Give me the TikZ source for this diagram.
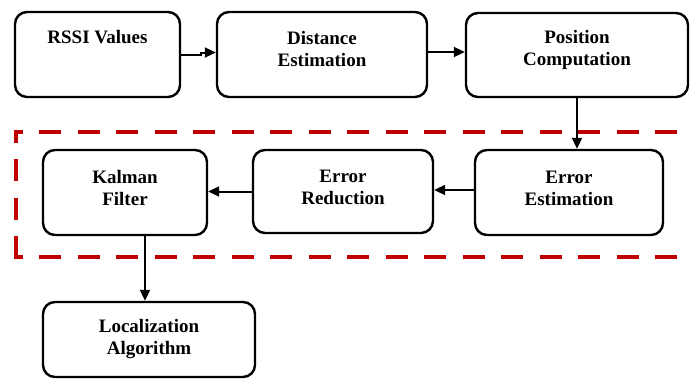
\documentclass[tikz,border=0pt]{standalone}
\usepackage{fontspec}
\setmainfont{Liberation Serif}
\usetikzlibrary{arrows.meta}
\definecolor{frame}{RGB}{192,0,0}
\begin{document}
\begin{tikzpicture}[x=1pt,y=-1pt,
  blk/.style={draw=black, line width=2.4pt, rounded corners=12pt, inner sep=0pt, fill=white},
  txt/.style={font=\bfseries\fontsize{19}{22}\selectfont, align=center, inner sep=0pt},
  arr/.style={line width=2pt, -{Triangle[length=11pt,width=10pt]}},
  redline/.style={draw=frame, line width=4pt, dash pattern=on 22pt off 16.5pt}]
\useasboundingbox (0,0) rectangle (694,380);

% dashed frame around the error handling stage
\draw[redline, dash phase=13.5pt] (14,132) -- (694,132);
\draw[redline, dash phase=11.5pt] (16,132) -- (16,257);
\draw[redline, dash phase=13.5pt] (14,257) -- (694,257);

% processing blocks
\node[blk, minimum width=165pt, minimum height=85pt,
  label={[txt, yshift=3pt]center:{RSSI Values\\\strut}}] (rssi) at (97.5,54.5) {};
\node[blk, minimum width=210pt, minimum height=85pt,
  label={[txt, yshift=5pt]center:{Distance\\Estimation}}] (dist) at (322,54.5) {};
\node[blk, minimum width=222pt, minimum height=84pt,
  label={[txt, yshift=5pt]center:{Position\\Computation}}] (pos) at (577,55) {};
\node[blk, minimum width=188pt, minimum height=85pt,
  label={[txt, yshift=4pt]center:{Error\\Estimation}}] (errest) at (569,192.5) {};
\node[blk, minimum width=180pt, minimum height=83pt,
  label={[txt, yshift=4pt]center:{Error\\Reduction}}] (errred) at (343,191.5) {};
\node[blk, minimum width=164pt, minimum height=85pt,
  label={[txt, yshift=5pt]center:{Kalman\\Filter}}] (kalman) at (125,192.5) {};
\node[blk, minimum width=212pt, minimum height=75pt,
  label={[txt, yshift=0pt]center:{Localization\\Algorithm}}] (loc) at (149,339.5) {};

% connectors
\draw[arr] (rssi.east) -- ++(20,0) |- ([yshift=2pt]dist.west);
\draw[arr] ([yshift=2.5pt]dist.east) -- ([yshift=2.5pt]dist.east -| pos.west);
\draw[arr] (pos.south) -- (pos.south |- errest.north);
\draw[arr] ([yshift=2.5pt]errest.west) -- ([yshift=2.5pt]errest.west -| errred.east);
\draw[arr] (errred.west) -- (errred.west -| kalman.east);
\draw[arr] ([xshift=20pt]kalman.south) -- ([xshift=20pt]kalman.south |- loc.north);
\end{tikzpicture}
\end{document}
